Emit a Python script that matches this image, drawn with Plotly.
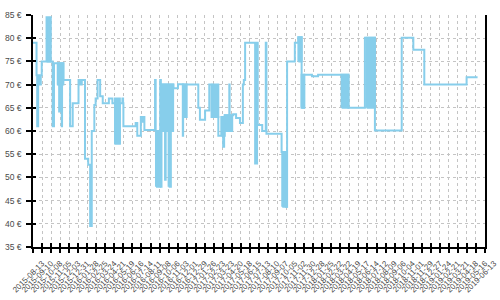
import plotly.graph_objects as go

# ---- data (step price history) ----
dates = [
    "2015-08-13", "2015-08-24", "2015-08-26", "2015-08-29", "2015-09-03", "2015-09-06",
    "2015-09-09", "2015-10-13", "2015-10-17", "2015-10-29", "2015-11-02", "2015-11-04",
    "2015-11-10", "2015-11-11", "2015-11-15", "2015-12-06", "2015-12-14", "2016-01-01",
    "2016-01-06", "2016-01-11", "2016-01-21", "2016-01-31", "2016-02-06", "2016-02-11",
    "2016-02-19", "2016-02-23", "2016-02-29", "2016-03-08", "2016-03-16", "2016-04-04",
    "2016-04-15", "2016-04-23", "2016-05-08", "2016-05-16", "2016-05-18", "2016-05-19",
    "2016-06-26", "2016-07-01", "2016-07-12", "2016-07-18", "2016-07-21", "2016-07-23",
    "2016-08-25", "2016-08-27", "2016-09-10", "2016-09-12", "2016-09-14", "2016-09-25",
    "2016-09-27", "2016-10-21", "2016-11-04", "2016-11-19", "2016-11-20", "2017-01-06",
    "2017-01-11", "2017-01-27", "2017-02-09", "2017-02-16", "2017-03-09", "2017-03-19",
    "2017-03-24", "2017-03-27", "2017-03-29", "2017-04-12", "2017-04-13", "2017-04-24",
    "2017-05-03", "2017-05-15", "2017-05-24", "2017-05-27", "2017-05-31", "2017-07-01",
    "2017-07-07", "2017-07-09", "2017-07-23", "2017-08-03", "2017-08-05", "2017-09-21",
    "2017-10-05", "2017-10-08", "2017-11-01", "2017-11-12", "2017-11-22", "2017-11-30",
    "2017-12-24", "2018-01-12", "2018-04-16", "2018-06-06", "2018-07-07", "2018-09-28",
    "2018-11-03", "2018-12-07", "2019-04-17", "2019-05-21",
]
prices = [
    79, 72, 61, 72, 70, 72,
    75, 61, 74.6, 70, 64.2, 74.6,
    61, 74.6, 71, 61, 66, 71,
    70, 71, 54, 52.7, 39.5, 60,
    65.6, 67, 71, 67.5, 66, 67,
    66, 57.3, 66, 67, 66, 61,
    61.7, 59, 63, 62, 63, 60.2,
    71, 60, 71, 48, 70, 49.5,
    70, 69.2, 70.1, 59, 70, 65,
    62.4, 64.4, 70, 63, 59, 63,
    56.6, 59, 63.4, 70, 63.4, 63.6,
    62.8, 61.7, 70, 71, 79, 53,
    79, 61.3, 60, 79, 59.4, 55.5,
    43.7, 75, 79, 80.2, 65, 72.1,
    71.8, 72.1, 65, 80.1, 60.1, 80.1,
    77.5, 70, 71.6, 71.6,
]

# periods where the price flipped daily between two levels (drawn as solid bands)
band_start = ["2015-09-24", "2015-10-29", "2016-04-23", "2016-08-28", "2016-09-14",
              "2016-10-06", "2016-11-20", "2017-02-19", "2017-03-19", "2017-03-29",
              "2017-09-23", "2017-11-12", "2017-11-22", "2018-03-26", "2018-06-11"]
band_end = ["2015-10-07", "2015-11-15", "2016-05-08", "2016-09-09", "2016-10-20",
            "2016-10-13", "2016-12-01", "2017-03-09", "2017-03-27", "2017-04-21",
            "2017-10-07", "2017-11-22", "2017-11-30", "2018-04-16", "2018-07-07"]
band_low = [75, 70, 57.3, 48, 60, 48, 63, 63, 59, 60, 43.7, 75, 65, 65, 65]
band_high = [84.5, 74.6, 67, 60, 70, 60, 70, 70, 63, 63.4, 55.5, 80.2, 72.1, 72.1, 80.1]

X_START = "2015-08-13"
X_END = "2019-06-13"
TICK_STEP_DAYS = 28

COLOR = "#87CEEB"
GRID = "#c4c4c4"
LABEL = "#4a4a4a"

fig = go.Figure()
for s, e, lo, hi in zip(band_start, band_end, band_low, band_high):
    fig.add_trace(go.Scatter(
        x=[s, e, e, s, s], y=[lo, lo, hi, hi, lo], mode="lines",
        fill="toself", fillcolor=COLOR, line=dict(color=COLOR, width=2),
        hoverinfo="skip", showlegend=False))
fig.add_trace(go.Scatter(
    x=dates, y=prices, mode="lines",
    line=dict(color=COLOR, width=2, shape="hv"), showlegend=False))
# invisible trace so the overlay axes (inner half of the crossing ticks) render
fig.add_trace(go.Scatter(
    x=[dates[0]], y=[prices[0]], xaxis="x2", yaxis="y2", mode="markers",
    marker=dict(opacity=0), hoverinfo="skip", showlegend=False))

dtick_ms = TICK_STEP_DAYS * 86400000
yfont = dict(family="Liberation Sans, Arial, sans-serif", size=8.5, color=LABEL)
xfont = dict(family="Liberation Sans, Arial, sans-serif", size=8, color=LABEL)

fig.update_layout(
    width=500, height=300,
    margin=dict(l=33, r=15, t=15, b=53, autoexpand=False),
    paper_bgcolor="white", plot_bgcolor="white",
    font=yfont,
    xaxis=dict(
        type="date", range=[X_START, X_END], tick0=X_START, dtick=dtick_ms,
        tickformat="%Y-%m-%d", tickangle=-45, tickfont=xfont, automargin=False,
        ticklabelshift=9, ticklabelstandoff=3,
        showgrid=True, gridcolor=GRID, griddash="3px,3px", gridwidth=1,
        showline=True, linecolor="black", linewidth=1.5,
        ticks="outside", ticklen=4, tickcolor="black", tickwidth=1.5,
        zeroline=False,
    ),
    yaxis=dict(
        range=[35, 85], dtick=5, ticksuffix=" €", tickfont=yfont, automargin=False,
        ticklabelstandoff=3,
        showgrid=True, gridcolor=GRID, griddash="3px,3px", gridwidth=1,
        showline=True, linecolor="black", linewidth=1.5, mirror=True,
        ticks="outside", ticklen=5, tickcolor="black", tickwidth=1.5,
        zeroline=False,
    ),
    xaxis2=dict(
        type="date", overlaying="x", matches="x", anchor="y2", automargin=False,
        tick0=X_START, dtick=dtick_ms, showticklabels=False,
        showgrid=False, showline=False, zeroline=False,
        ticks="inside", ticklen=4, tickcolor="black", tickwidth=1.5,
    ),
    yaxis2=dict(
        overlaying="y", matches="y", anchor="x2", dtick=5, automargin=False,
        showticklabels=False, showgrid=False, showline=False, zeroline=False,
        ticks="inside", ticklen=3, tickcolor="black", tickwidth=1.5,
    ),
)

fig.write_html("out.html")
